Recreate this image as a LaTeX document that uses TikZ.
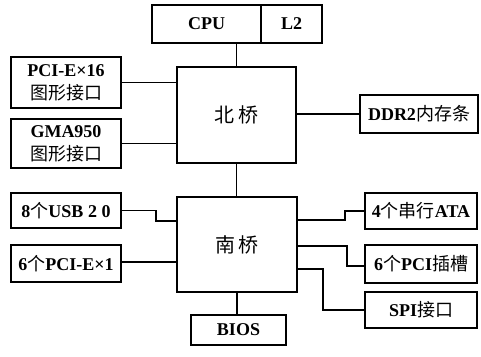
\documentclass[tikz,border=0pt]{standalone}
\usepackage{fontspec}
\setmainfont{Liberation Serif}
\newfontfamily\cjk{Noto Sans CJK SC}
\newcommand{\zh}[1]{{\cjk\mdseries #1}}
\begin{document}
\begin{tikzpicture}[x=1pt,y=-1pt,
  box/.style={draw, line width=1.2pt, inner sep=0pt, align=center,
    font=\bfseries\fontsize{18}{23}\selectfont},
  wire/.style={line width=1.2pt}]
\useasboundingbox (0,0) rectangle (481,356);
% top
\node[box, minimum width=109pt, minimum height=38pt] (cpu) at (206.5,24) {CPU};
\node[box, minimum width=61pt, minimum height=38pt] (l2) at (291.5,24) {L2};
\node[box, minimum width=119pt, minimum height=96pt] (nb) at (236.5,115) {\zh{\fontsize{20}{24}\selectfont 北\,桥}};
\node[box, minimum width=110pt, minimum height=51pt] (pcie16) at (66,82.5) {PCI-E×16\\\zh{图形接口}};
\node[box, minimum width=110pt, minimum height=49pt] (gma) at (66,143.5) {GMA950\\\zh{图形接口}};
\node[box, minimum width=118pt, minimum height=38pt] (ddr) at (419,114) {DDR2\zh{内存条}};
% south
\node[box, minimum width=120pt, minimum height=95pt] (sb) at (237,244.5) {\zh{\fontsize{20}{24}\selectfont 南\,桥}};
\node[box, minimum width=110pt, minimum height=35pt] (usb) at (66,210.5) {8\zh{个}USB 2 0};
\node[box, minimum width=110pt, minimum height=37pt] (pcie1) at (66,263.5) {6\zh{个}PCI-E×1};
\node[box, minimum width=112pt, minimum height=36pt] (ata) at (421,211) {4\zh{个串行}ATA};
\node[box, minimum width=112pt, minimum height=38pt] (pci) at (421,264) {6\zh{个}PCI\zh{插槽}};
\node[box, minimum width=112pt, minimum height=36pt] (spi) at (421,310) {SPI\zh{接口}};
\node[box, minimum width=95pt, minimum height=30pt] (bios) at (238.5,330) {BIOS};
% connectors
\draw[wire] (nb.north) -- (nb.north |- cpu.south);
\draw[wire] (pcie16.east) -- (pcie16.east -| nb.west);
\draw[wire] (gma.east) -- (gma.east -| nb.west);
\draw[wire] (nb.east |- ddr.west) -- (ddr.west);
\draw[wire] (nb.south) -- (nb.south |- sb.north);
\draw[wire] (usb.east) -- (156,210.5) -- (156,221) -- (sb.west |- 0,221);
\draw[wire] (pcie1.east |- 0,262) -- (sb.west |- 0,262);
\draw[wire] (sb.east |- 0,220) -- (345,220) -- (345,211) -- (ata.west);
\draw[wire] (sb.east |- 0,246) -- (347,246) -- (347,266) -- (pci.west |- 0,266);
\draw[wire] (sb.east |- 0,269) -- (323,269) -- (323,310) -- (spi.west);
\draw[wire] (bios.north -| sb.south) -- (sb.south);
\end{tikzpicture}
\end{document}
